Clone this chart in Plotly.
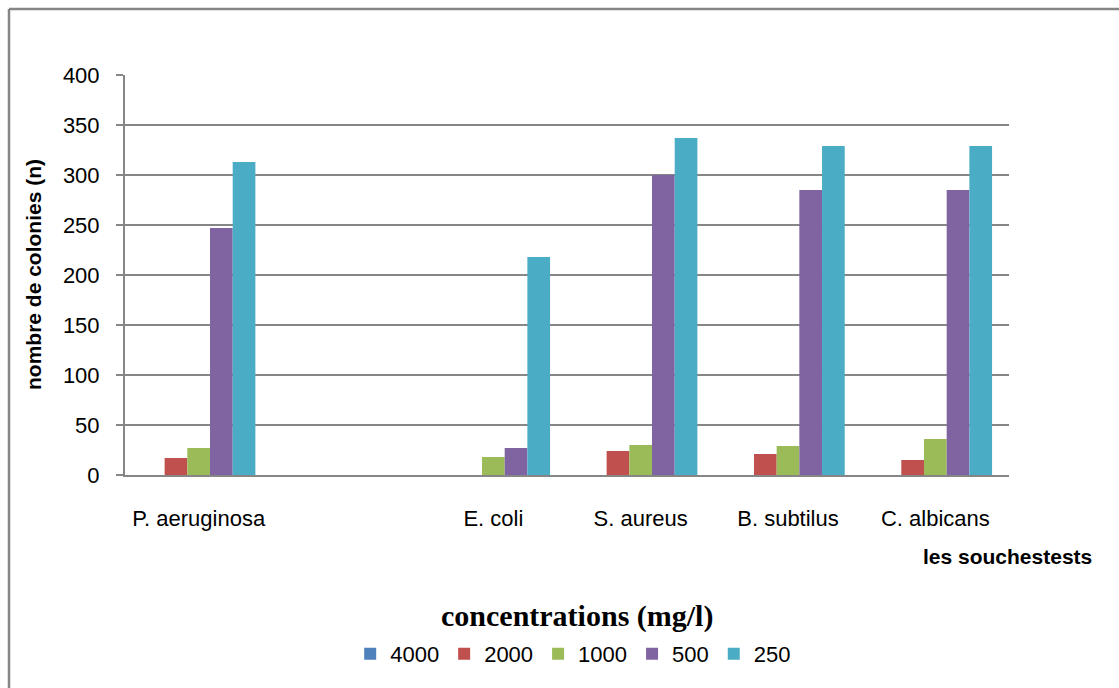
import plotly.graph_objects as go

# Strains tested (one empty slot kept between P. aeruginosa and E. coli)
strains = ["P. aeruginosa", " ", "E. coli", "S. aureus", "B. subtilus", "C. albicans"]

# Colony counts per concentration (mg/l)
conc_labels = ["4000", "2000", "1000", "500", "250"]
c4000 = [0, None, 0, 0, 0, 0]
c2000 = [17, None, 0, 24, 21, 15]
c1000 = [27, None, 18, 30, 29, 36]
c500 = [247, None, 27, 300, 285, 285]
c250 = [313, None, 218, 337, 329, 329]

series = [c4000, c2000, c1000, c500, c250]
colors = ["#4F81BD", "#C0504D", "#9BBB59", "#8064A2", "#4BACC6"]

y_ticks = [0, 50, 100, 150, 200, 250, 300, 350, 400]

GRID = "#868686"
FONT = "Liberation Sans, Arial, sans-serif"

fig = go.Figure()
for name, vals, col in zip(conc_labels, series, colors):
    fig.add_trace(go.Bar(
        x=strains, y=vals, name=name,
        marker=dict(color=col, line=dict(width=0)),
    ))

fig.update_layout(
    width=1119, height=688,
    margin=dict(l=125, r=110, t=75, b=213),
    paper_bgcolor="white", plot_bgcolor="white",
    barmode="group", bargap=0.23, bargroupgap=0,
    font=dict(family=FONT, size=22, color="black"),
    showlegend=True,
    legend=dict(
        orientation="h", x=0.507, xanchor="center", y=-0.395, yanchor="top",
        font=dict(family=FONT, size=22, color="black"),
        itemsizing="constant", traceorder="normal",
    ),
    xaxis=dict(
        type="category", categoryorder="array", categoryarray=strains,
        showline=True, linecolor=GRID, linewidth=2,
        showgrid=False, ticks="", ticklabelstandoff=23,
        tickfont=dict(family=FONT, size=22),
    ),
    yaxis=dict(
        range=[0, 400], tickvals=y_ticks,
        showgrid=True, gridcolor=GRID, gridwidth=2,
        showline=True, linecolor=GRID, linewidth=2,
        ticks="outside", ticklen=7, tickcolor=GRID, tickwidth=2,
        ticklabelstandoff=12, zeroline=False,
        tickfont=dict(family=FONT, size=22),
    ),
    annotations=[
        dict(text="<b>nombre de colonies (n)</b>", textangle=-90,
             xref="paper", yref="paper", x=(33 - 125) / 884, y=(475 - 275) / 400,
             xanchor="center", yanchor="middle", showarrow=False,
             font=dict(family=FONT, size=21, color="black")),
        dict(text="<b>les souchestests</b>",
             xref="paper", yref="paper", x=(1007 - 125) / 884, y=(475 - 556) / 400,
             xanchor="center", yanchor="middle", showarrow=False,
             font=dict(family=FONT, size=21, color="black")),
        dict(text="<b>concentrations (mg/l)</b>",
             xref="paper", yref="paper", x=(577 - 125) / 884, y=(475 - 616) / 400,
             xanchor="center", yanchor="middle", showarrow=False,
             font=dict(family="Liberation Serif, Times New Roman, serif", size=30, color="black")),
    ],
    shapes=[
        dict(type="line", xref="paper", yref="paper",
             x0=(9 - 125) / 884, x1=(1130 - 125) / 884,
             y0=(475 - 9) / 400, y1=(475 - 9) / 400,
             line=dict(color=GRID, width=2.5)),
        dict(type="line", xref="paper", yref="paper",
             x0=(9 - 125) / 884, x1=(9 - 125) / 884,
             y0=(475 - 9) / 400, y1=(475 - 700) / 400,
             line=dict(color=GRID, width=2.5)),
    ],
)

fig.write_html("out.html")
